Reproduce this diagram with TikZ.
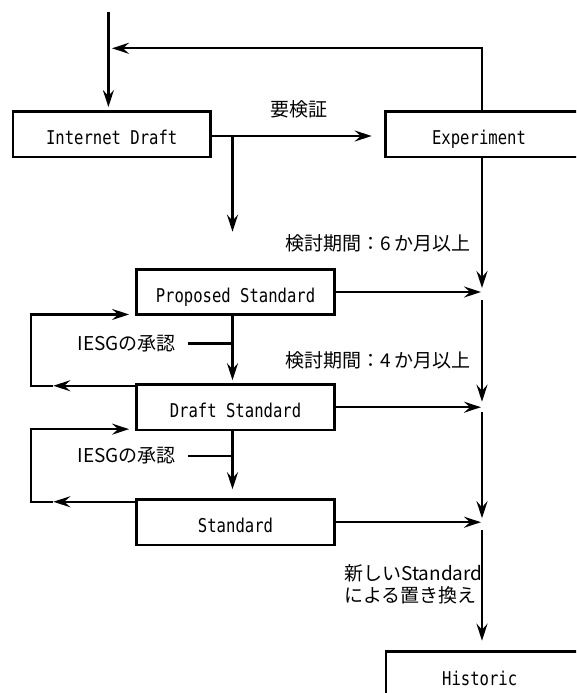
\documentclass[tikz,border=0pt]{standalone}
\usepackage{fontspec}
\usetikzlibrary{arrows.meta}
\newfontfamily\jpfont{Noto Sans CJK JP}
\newfontfamily\boxfont[FakeStretch=0.82]{DejaVu Sans Mono}
\begin{document}
\begin{tikzpicture}[x=1pt,y=-1pt,
  every node/.style={inner sep=0pt},
  box/.style={draw, line width=2.6pt, minimum width=197.6pt, minimum height=45.3pt},
  btext/.style={font=\boxfont\fontsize{19}{19}\selectfont, text height=21pt, text depth=0pt},
  lab/.style={font=\jpfont\fontsize{19}{22}\selectfont},
  ln/.style={line width=2.4pt},
  arr/.style={line width=2.4pt, -{Stealth[length=17pt,width=11pt,inset=6pt]}},
]
\useasboundingbox (0,0) rectangle (576,693);
\clip (0,0) rectangle (576,693);

% boxes
\node[box, btext] (id) at (111.7,134.4) {Internet Draft};
\node[box, minimum width=234.3pt] (exp) at (502.85,134.4) {};
\node[btext] (expt) at (479,134.4) {Experiment};
\node[box, btext] (ps) at (235.5,292) {Proposed Standard};
\node[box, btext] (ds) at (235.5,407.2) {Draft Standard};
\node[box, btext] (std) at (235.5,522.2) {Standard};
\node[box, minimum width=234.3pt, minimum height=68pt] (his) at (503.15,685.7) {};
\node[btext] (hist) at (479.7,674.6) {Historic};

% labels
\node[lab] (verify) at (299,109) {要検証};
\node[lab, anchor=east] (six) at (471,243.5) {検討期間：6 か月以上};
\node[lab, anchor=east] (four) at (471,360) {検討期間：4 か月以上};
\node[lab] (iesg1) at (126.7,343.3) {IESGの承認};
\node[lab] (iesg2) at (126.7,456) {IESGの承認};
\node[lab, align=left, anchor=west] (repl) at (344,584.5) {新しいStandard\\による置き換え};

% helper coordinates
\coordinate (top) at (108.4,11.7);
\coordinate (vx) at (482,0);
\coordinate (bx) at (232.5,0);
\coordinate (lx) at (31.2,0);
\coordinate (mx) at (53.3,0);
\coordinate (ret) at (482,48.3);

% top entry and return from Experiment
\draw[arr, shorten >=3.4pt] (top) -- (top |- id.north);
\draw[arr] (ret |- exp.north) -- (ret) -- ([xshift=3.6pt]top |- ret);

% Internet Draft -> Experiment
\draw[arr, shorten >=12.7pt] ([yshift=-1.6pt]id.east) -- ([yshift=-1.6pt]id.east -| exp.west);
% branch down
\coordinate (br) at ([yshift=-1.6pt]id.east -| bx);
\coordinate (brend) at (232.5,231.7);
\draw[arr] (br) -- (brend);

% right column
\coordinate (j1) at (vx |- ps.east);
\coordinate (j2) at (vx |- ds.east);
\coordinate (j3) at (vx |- std.east);
\draw[arr] (vx |- exp.south) -- ([yshift=4pt]j1);
\draw[arr, shorten >=1pt] (ps.east) -- (j1);
\draw[arr] ([yshift=-8pt]j1) -- ([yshift=5.5pt]j2);
\draw[arr, shorten >=1pt] (ds.east) -- (j2);
\draw[arr] ([yshift=-5pt]j2) -- ([yshift=4pt]j3);
\draw[arr, shorten >=1pt] (std.east) -- (j3);
\draw[arr, shorten >=9.7pt] ([yshift=-8pt]j3) -- (vx |- his.north);

% centre column
\draw[arr, shorten >=3pt] (bx |- ps.south) -- (bx |- ds.north);
\draw[arr, shorten >=9pt] (bx |- ds.south) -- (bx |- std.north);
\draw[ln] ([xshift=12pt]iesg1.east) -- (iesg1.east -| bx);
\draw[ln] ([xshift=12pt]iesg2.east) -- (iesg2.east -| bx);

% left loops
\coordinate (l1a) at ([yshift=-2.5pt]ds.north west);
\coordinate (l1b) at ([yshift=1.5pt]ps.south west);
\draw[arr] (l1a) -- (l1a -| mx);
\draw[arr, shorten >=6.3pt] (l1a -| mx) -- (l1a -| lx) -- (lx |- l1b) -- (l1b);
\coordinate (l2a) at ([yshift=-3.5pt]std.north west);
\coordinate (l2b) at ([yshift=2pt]ds.south west);
\draw[arr] (l2a) -- (l2a -| mx);
\draw[arr, shorten >=6.3pt] (l2a -| mx) -- (l2a -| lx) -- (lx |- l2b) -- (l2b);
\end{tikzpicture}
\end{document}
